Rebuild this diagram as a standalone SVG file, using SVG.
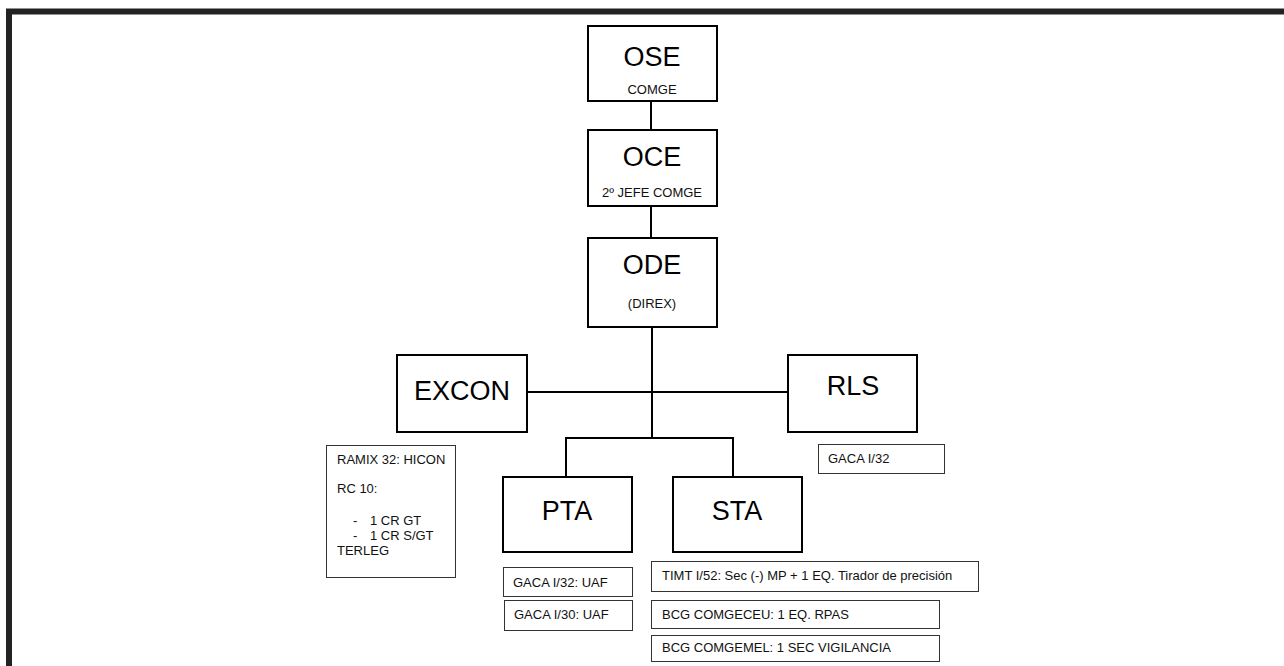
<svg xmlns="http://www.w3.org/2000/svg" width="1284" height="666" viewBox="0 0 1284 666">
<style>
.box{fill:#fff;stroke:#000;stroke-width:2}
.sbox{fill:#fff;stroke:#333;stroke-width:1}
.big{font-family:"Liberation Sans",Arial,sans-serif;font-size:27px;fill:#000;text-anchor:middle}
.sub{font-family:"Liberation Sans",Arial,sans-serif;font-size:13px;fill:#111;text-anchor:middle}
.sm{font-family:"Liberation Sans",Arial,sans-serif;font-size:13px;fill:#111}
.con{stroke:#000;stroke-width:2;fill:none}
</style>
<rect x="0" y="0" width="1284" height="666" fill="#fff"/>
<g id="frame">
<path d="M9,666 V11.5 H1284" fill="none" stroke="#222" stroke-width="6"/>
</g>
<g id="connectors">
<path class="con" d="M651,90 V130"/>
<path class="con" d="M651,206 V238"/>
<path class="con" d="M652,327 V438"/>
<path class="con" d="M527,392 H788"/>
<path class="con" d="M566,477 V438 H733 V477"/>
</g>
<g id="OSE">
<rect class="box" x="588" y="26" width="129" height="75"/>
<text class="big" x="652" y="66">OSE</text>
<text class="sub" x="652" y="94">COMGE</text>
</g>
<g id="OCE">
<rect class="box" x="588" y="130" width="129" height="76"/>
<text class="big" x="652" y="166">OCE</text>
<text class="sub" x="652" y="197">2º JEFE COMGE</text>
</g>
<g id="ODE">
<rect class="box" x="588" y="238" width="129" height="89"/>
<text class="big" x="652" y="274">ODE</text>
<text class="sub" x="652" y="308">(DIREX)</text>
</g>
<g id="EXCON">
<rect class="box" x="397" y="355" width="130" height="77"/>
<text class="big" x="462" y="400">EXCON</text>
</g>
<g id="RLS">
<rect class="box" x="788" y="355" width="129" height="77"/>
<text class="big" x="853" y="395">RLS</text>
</g>
<g id="PTA">
<rect class="box" x="503" y="477" width="129" height="75"/>
<text class="big" x="567" y="520">PTA</text>
</g>
<g id="STA">
<rect class="box" x="673" y="477" width="129" height="75"/>
<text class="big" x="737" y="520">STA</text>
</g>
<g id="RAMIX">
<rect class="sbox" x="326.5" y="445.5" width="129" height="132"/>
<text class="sm" x="337" y="464">RAMIX 32: HICON</text>
<text class="sm" x="337" y="493">RC 10:</text>
<text class="sm" x="353" y="525">-</text>
<text class="sm" x="370" y="525">1 CR GT</text>
<text class="sm" x="353" y="540">-</text>
<text class="sm" x="370" y="540">1 CR S/GT</text>
<text class="sm" x="337" y="555">TERLEG</text>
</g>
<g id="GACA_RLS">
<rect class="sbox" x="818.5" y="444.5" width="126" height="29"/>
<text class="sm" x="828" y="463">GACA I/32</text>
</g>
<g id="GACA32">
<rect class="sbox" x="503.5" y="567.5" width="129" height="29"/>
<text class="sm" x="513" y="587">GACA I/32: UAF</text>
</g>
<g id="GACA30">
<rect class="sbox" x="504.5" y="600.5" width="128" height="30"/>
<text class="sm" x="514" y="619">GACA I/30: UAF</text>
</g>
<g id="TIMT">
<rect class="sbox" x="651.5" y="561.5" width="327" height="30"/>
<text class="sm" x="662" y="580">TIMT I/52: Sec (-) MP + 1 EQ. Tirador de precisión</text>
</g>
<g id="BCG1">
<rect class="sbox" x="651.5" y="600.5" width="288" height="28"/>
<text class="sm" x="662" y="619">BCG COMGECEU: 1 EQ. RPAS</text>
</g>
<g id="BCG2">
<rect class="sbox" x="651.5" y="635.5" width="288" height="26"/>
<text class="sm" x="662" y="652">BCG COMGEMEL: 1 SEC VIGILANCIA</text>
</g>
</svg>
